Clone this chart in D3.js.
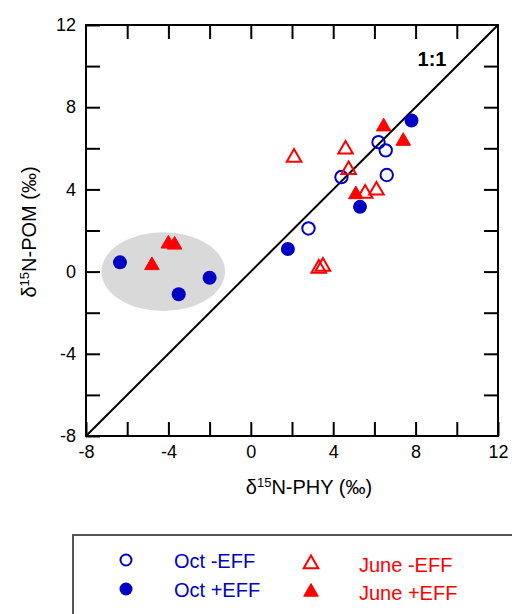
<!DOCTYPE html>
<html lang="en">
<head>
<meta charset="UTF-8">
<title>d15N POM vs PHY</title>
<script src="https://d3js.org/d3.v7.min.js"></script>
<style>
body { margin: 0; background: #fff; }
svg text { font-family: "Liberation Sans", Arial, sans-serif; }
</style>
</head>
<body>
<svg id="chart" width="512" height="614"></svg>
<script>
// data: [PHY, POM] pairs
const octMinusEff = [[6.2, 6.3], [6.55, 5.9], [4.4, 4.6], [6.6, 4.7], [2.8, 2.1]];
const octPlusEff = [[-6.35, 0.45], [-2.0, -0.3], [-3.5, -1.1], [7.8, 7.35], [5.3, 3.15], [1.8, 1.1]];
const juneMinusEff = [[4.6, 6.0], [2.1, 5.6], [4.75, 5.0], [5.55, 3.85], [6.1, 4.0], [3.3, 0.2], [3.5, 0.3]];
const junePlusEff = [[-4.8, 0.35], [-4.0, 1.4], [-3.7, 1.35], [6.45, 7.1], [7.4, 6.4], [5.1, 3.8]];
const seriesNames = ["Oct -EFF", "Oct +EFF", "June -EFF", "June +EFF"];
const axisTicks = [-8, -6, -4, -2, 0, 2, 4, 6, 8, 10, 12];
const oneToOne = [[-8, -8], [12, 12]];
// shaded group: centre and half widths in per mil
const groupCentre = [-4.25, 0.0];
const groupRadii = [3.0, 1.92];

const blue = "#0000c4";
const red = "#ff0000";

const svg = d3.select("#chart");
const margin = { left: 86, top: 25 };
const w = 412, h = 411;

const x = d3.scaleLinear().domain([-8, 12]).range([margin.left, margin.left + w]);
const y = d3.scaleLinear().domain([-8, 12]).range([margin.top + h, margin.top]);

// grey ellipse behind the cluster
svg.append("ellipse")
    .attr("cx", x(groupCentre[0]))
    .attr("cy", y(groupCentre[1]))
    .attr("rx", x(groupCentre[0] + groupRadii[0]) - x(groupCentre[0]))
    .attr("ry", y(groupCentre[1]) - y(groupCentre[1] + groupRadii[1]))
    .attr("fill", "#d9d9d9");

// axes, ticks pointing inward on all four sides
const fmt = d => (d % 4 === 0 ? String(d) : "");
function styleAxis(g) {
    g.select(".domain").remove();
    g.selectAll("line").attr("stroke", "#000").attr("stroke-width", 2);
    g.selectAll("text").attr("fill", "#000");
    g.attr("font-size", 18).attr("font-family", null);
}
svg.append("g").attr("transform", `translate(0,${margin.top + h})`)
    .call(d3.axisBottom(x).tickValues(axisTicks).tickFormat(fmt).tickSize(-14).tickPadding(9))
    .call(styleAxis);
svg.append("g").attr("transform", `translate(${margin.left},0)`)
    .call(d3.axisLeft(y).tickValues(axisTicks).tickFormat(fmt).tickSize(-14).tickPadding(10))
    .call(styleAxis);
svg.append("g").attr("transform", `translate(0,${margin.top})`)
    .call(d3.axisTop(x).tickValues(axisTicks.slice(1, -1)).tickFormat("").tickSize(-14))
    .call(styleAxis);
svg.append("g").attr("transform", `translate(${margin.left + w},0)`)
    .call(d3.axisRight(y).tickValues(axisTicks.slice(1, -1)).tickFormat("").tickSize(-14))
    .call(styleAxis);

svg.append("rect")
    .attr("x", margin.left).attr("y", margin.top)
    .attr("width", w).attr("height", h)
    .attr("fill", "none").attr("stroke", "#000").attr("stroke-width", 2);

// 1:1 line
svg.append("line")
    .attr("x1", x(oneToOne[0][0])).attr("y1", y(oneToOne[0][1]))
    .attr("x2", x(oneToOne[1][0])).attr("y2", y(oneToOne[1][1]))
    .attr("stroke", "#000").attr("stroke-width", 2);
svg.append("text")
    .attr("x", 432).attr("y", 66)
    .attr("text-anchor", "middle")
    .attr("font-size", 20).attr("font-weight", "bold")
    .text("1:1");

// markers
const tri = d3.symbol().type(d3.symbolTriangle).size(92);

function circles(data, filled) {
    svg.append("g").selectAll("circle").data(data).join("circle")
        .attr("cx", d => x(d[0])).attr("cy", d => y(d[1]))
        .attr("r", filled ? 7 : 6.2)
        .attr("fill", filled ? blue : "none")
        .attr("stroke", blue)
        .attr("stroke-width", filled ? 0 : 2);
}
function triangles(data, filled) {
    svg.append("g").selectAll("path").data(data).join("path")
        .attr("d", tri)
        .attr("transform", d => `translate(${x(d[0])},${y(d[1]) + 1})`)
        .attr("fill", filled ? red : "none")
        .attr("stroke", red)
        .attr("stroke-width", filled ? 1 : 2);
}
circles(octMinusEff, false);
circles(octPlusEff, true);
triangles(juneMinusEff, false);
triangles(junePlusEff, true);

// axis titles
const xt = svg.append("text")
    .attr("x", 309).attr("y", 494)
    .attr("text-anchor", "middle").attr("font-size", 20);
xt.append("tspan").text("δ");
xt.append("tspan").attr("font-size", 13).attr("dy", -7).text("15");
xt.append("tspan").attr("dy", 7).text("N-PHY (‰)");

const yt = svg.append("text")
    .attr("transform", "translate(36,232) rotate(-90)")
    .attr("text-anchor", "middle").attr("font-size", 20);
yt.append("tspan").text("δ");
yt.append("tspan").attr("font-size", 13).attr("dy", -7).text("15");
yt.append("tspan").attr("dy", 7).text("N-POM (‰)");

// legend
svg.append("rect")
    .attr("x", 73).attr("y", 535)
    .attr("width", 500).attr("height", 120)
    .attr("fill", "none").attr("stroke", "#555").attr("stroke-width", 2);

const legendItems = [
    { name: seriesNames[0], kind: "circle", filled: false, color: blue, mx: 126, my: 560, tx: 174, ty: 568 },
    { name: seriesNames[1], kind: "circle", filled: true, color: blue, mx: 126, my: 589, tx: 174, ty: 597 },
    { name: seriesNames[2], kind: "tri", filled: false, color: red, mx: 311, my: 564, tx: 359, ty: 572 },
    { name: seriesNames[3], kind: "tri", filled: true, color: red, mx: 311, my: 592, tx: 359, ty: 600 }
];
legendItems.forEach(it => {
    if (it.kind === "circle") {
        svg.append("circle")
            .attr("cx", it.mx).attr("cy", it.my)
            .attr("r", it.filled ? 6.5 : 5.5)
            .attr("fill", it.filled ? it.color : "none")
            .attr("stroke", it.color).attr("stroke-width", it.filled ? 0 : 2);
    } else {
        svg.append("path")
            .attr("d", tri())
            .attr("transform", `translate(${it.mx},${it.my})`)
            .attr("fill", it.filled ? it.color : "none")
            .attr("stroke", it.color).attr("stroke-width", it.filled ? 1 : 2);
    }
    svg.append("text")
        .attr("x", it.tx).attr("y", it.ty)
        .attr("font-size", 20).attr("fill", it.color)
        .text(it.name);
});
</script>
</body>
</html>
